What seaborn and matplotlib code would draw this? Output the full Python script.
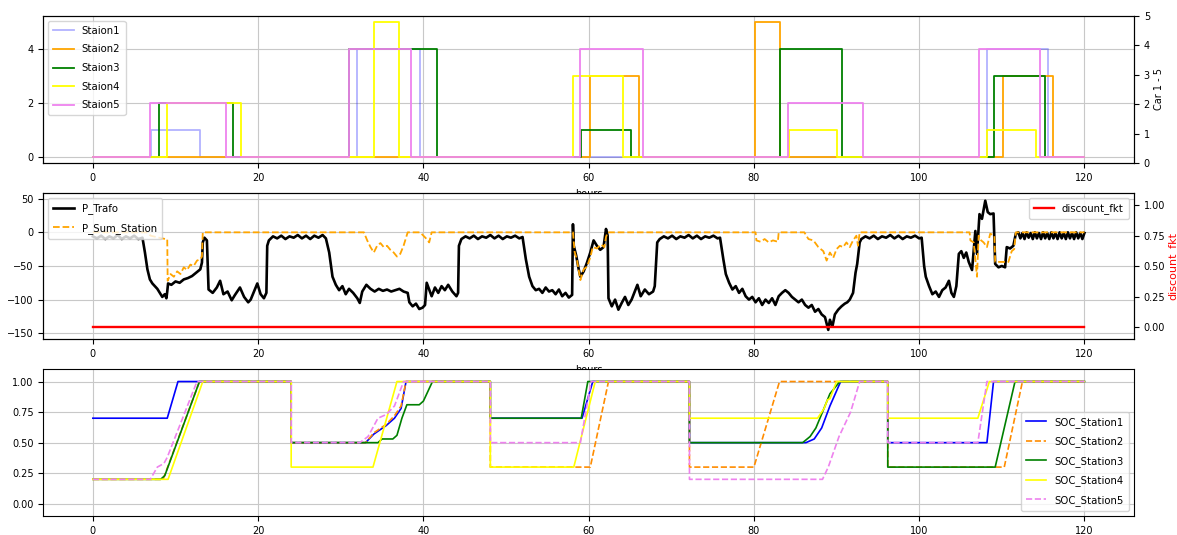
import matplotlib
matplotlib.use("Agg")
import matplotlib.pyplot as plt
import seaborn as sns
import numpy as np

plt.rcParams['font.family'] = ['DejaVu Sans']
plt.rcParams['font.size'] = 7

# ---------------- data: cars per station (step breakpoints) ----------------
st1_h = [0, 7.0, 13.0, 32.0, 39.6, 108.2, 115.6, 120]
st1_n = [0, 1, 0, 4, 0, 4, 0, 0]
st2_h = [0, 60.2, 66.1, 80.15, 83.1, 110.2, 116.2, 120]
st2_n = [0, 3, 0, 5, 0, 3, 0, 0]
st3_h = [0, 8.0, 17.0, 31.0, 41.6, 59.1, 65.1, 83.1, 90.7, 109.1, 115.2, 120]
st3_n = [0, 2, 0, 4, 0, 1, 0, 4, 0, 3, 0, 0]
st4_h = [0, 9.0, 17.9, 34.0, 37.0, 58.1, 64.1, 84.2, 90.1, 108.2, 114.2, 120]
st4_n = [0, 2, 0, 5, 0, 3, 0, 1, 0, 1, 0, 0]
st5_h = [0, 6.95, 16.1, 31.0, 38.5, 59.0, 66.6, 84.1, 93.2, 107.2, 114.6, 120]
st5_n = [0, 2, 0, 4, 0, 4, 0, 2, 0, 4, 0, 0]

# ---------------- data: transformer power ----------------
trafo_h = [0.0, 0.5, 1.0, 1.5, 2.0, 2.5, 3.0, 3.5, 4.0, 4.5, 5.0, 5.5, 6.0, 6.3, 6.6, 6.9,
           7.2, 7.5, 7.8, 8.1, 8.4, 8.7, 8.9, 9.0, 9.1, 9.5, 10.0, 10.5, 11.0, 11.5, 12.0,
           12.5, 13.0, 13.2, 13.3, 13.5, 13.8, 14.0, 14.5, 15.0, 15.4, 15.8, 16.3, 16.8,
           17.2, 17.8, 18.3, 18.8, 19.1, 19.5, 19.9, 20.3, 20.7, 21.0, 21.1, 21.3, 21.8,
           22.3, 22.8, 23.3, 23.8, 24.3, 24.8, 25.3, 25.8, 26.3, 26.8, 27.3, 27.8, 28.2,
           28.6, 29.0, 29.4, 29.8, 30.2, 30.6, 31.0, 31.5, 32.0, 32.3, 32.6, 33.1, 33.6,
           34.1, 34.6, 35.1, 35.6, 36.1, 36.6, 37.1, 37.6, 38.1, 38.3, 38.7, 39.1, 39.5,
           39.9, 40.2, 40.4, 40.7, 41.0, 41.4, 41.8, 42.2, 42.6, 43.0, 43.5, 44.0, 44.2,
           44.3, 44.6, 45.1, 45.6, 46.1, 46.6, 47.1, 47.6, 48.1, 48.6, 49.1, 49.6, 50.1,
           50.6, 51.1, 51.6, 52.0, 52.4, 52.8, 53.2, 53.6, 54.0, 54.4, 54.8, 55.2, 55.6,
           56.0, 56.4, 56.8, 57.2, 57.6, 58.0, 58.1, 58.2, 58.5, 58.8, 59.0, 59.4, 59.8,
           60.2, 60.6, 61.0, 61.4, 61.8, 62.1, 62.3, 62.4, 62.8, 63.2, 63.6, 64.0, 64.4,
           64.8, 65.2, 65.9, 66.3, 66.8, 67.3, 67.8, 68.0, 68.3, 68.6, 69.1, 69.6, 70.1,
           70.6, 71.1, 71.6, 72.1, 72.6, 73.1, 73.6, 74.1, 74.6, 75.1, 75.6, 75.9, 76.3,
           76.6, 77.0, 77.4, 77.8, 78.2, 78.6, 79.0, 79.4, 79.8, 80.2, 80.6, 81.0, 81.4,
           81.8, 82.2, 82.6, 83.0, 83.4, 83.8, 84.2, 84.6, 85.0, 85.4, 85.8, 86.2, 86.6,
           87.0, 87.4, 87.8, 88.2, 88.6, 89.0, 89.2, 89.5, 89.8, 90.2, 90.6, 91.0, 91.3,
           91.6, 92.0, 92.3, 92.5, 92.8, 93.0, 93.5, 94.0, 94.5, 95.0, 95.5, 96.0, 96.5,
           97.0, 97.5, 98.0, 98.5, 99.0, 99.5, 100.0, 100.3, 100.6, 100.8, 101.2, 101.6,
           102.0, 102.4, 102.8, 103.2, 103.6, 103.9, 104.2, 104.5, 104.8, 105.1, 105.4,
           105.7, 106.0, 106.4, 106.8, 107.0, 107.3, 107.6, 108.0, 108.3, 108.6, 109.0,
           109.2, 109.6, 110.0, 110.4, 110.6, 111.0, 111.4, 111.7, 112.0, 112.25, 112.5,
           112.75, 113.0, 113.25, 113.5, 113.75, 114.0, 114.25, 114.5, 114.75, 115.0,
           115.25, 115.5, 115.75, 116.0, 116.25, 116.5, 116.75, 117.0, 117.25, 117.5,
           117.75, 118.0, 118.25, 118.5, 118.75, 119.0, 119.25, 119.5, 119.75, 120.0]
trafo_kw = [-6, -9, -5, -10, -6, -9, -4, -10, -6, -9, -5, -10, -8, -30, -55, -70,
            -76, -80, -84, -90, -96, -92, -98, -88, -76, -78, -73, -75, -70, -68, -65,
            -60, -55, -45, -15, -8, -12, -85, -90, -82, -72, -92, -88, -101,
            -93, -82, -96, -104, -100, -88, -76, -92, -98, -90, -20, -12, -6,
            -9, -5, -10, -6, -8, -4, -9, -5, -10, -5, -8, -4, -9,
            -30, -66, -78, -86, -80, -92, -84, -90, -98, -105, -88, -78, -84,
            -88, -84, -87, -85, -88, -86, -84, -88, -90, -104, -110, -106, -114,
            -112, -108, -75, -85, -95, -82, -90, -80, -86, -78, -88, -95, -90,
            -20, -10, -6, -9, -5, -10, -6, -8, -4, -9, -5, -10, -6,
            -8, -5, -9, -7, -40, -66, -80, -86, -84, -90, -82, -88, -86,
            -92, -85, -95, -90, -97, -93, 12, -20, -35, -55, -66, -58, -45,
            -30, -12, -20, -26, -22, 5, -5, -98, -110, -100, -115, -105, -96,
            -108, -100, -78, -95, -85, -92, -88, -80, -15, -10, -6, -9, -5,
            -10, -6, -8, -4, -9, -5, -10, -6, -8, -5, -9, -8, -40,
            -62, -75, -85, -80, -90, -84, -95, -100, -96, -104, -98, -108, -100,
            -105, -98, -108, -95, -90, -86, -90, -96, -100, -104, -100, -108, -112,
            -108, -118, -114, -122, -126, -145, -130, -140, -122, -115, -110, -106, -104,
            -100, -90, -60, -47, -15, -10, -6, -9, -5, -10, -6, -8, -4,
            -9, -5, -10, -6, -8, -5, -9, -8, -50, -66, -80, -92,
            -88, -96, -86, -82, -72, -90, -96, -80, -32, -28, -38,
            -30, -44, -56, 2, -32, 27, 20, 47, 30, 27, 28,
            -47, -52, -50, -52, -22, -24, -20, -2, 0, -9, -1,
            -10, 0, -8, -1, -10, 0, -9, -1, -10, 0,
            -9, -1, -10, 0, -9, -1, -10, 0, -9, -1,
            -10, 0, -9, -1, -10, 0, -9, -1, -10, -1]

# ---------------- data: sum of station power ----------------
sum_h = [0, 6.5, 7.0, 8.0, 8.8, 9.0, 9.05, 9.4, 9.8, 10.2, 10.6, 11.0, 11.4, 11.8, 12.2,
         12.6, 13.0, 13.2, 13.3, 32.8, 33.2, 33.6, 34.0, 34.4, 34.8, 35.2, 35.6, 36.0,
         36.4, 36.8, 37.2, 37.6, 38.1, 39.6, 40.0, 40.4, 40.7, 41.0, 58.1, 58.3, 58.6,
         59.0, 59.4, 59.8, 60.2, 60.5, 61.0, 61.5, 61.9, 62.1, 62.3, 80.2, 80.3, 80.8,
         81.3, 81.8, 82.3, 82.9, 83.0, 86.1, 86.6, 87.2, 87.8, 88.4, 88.8, 89.2, 89.6,
         90.0, 90.4, 90.8, 91.2, 91.6, 92.0, 92.4, 92.6, 92.8, 106.1, 106.2, 106.6,
         107.0, 107.2, 107.5, 107.8, 108.2, 108.6, 109.1, 109.2, 110.0, 110.8, 111.2,
         111.5, 111.7, 120]
sum_kw = [0, 0, -5, -8, -10, -10, -72, -62, -66, -58, -62, -52, -56, -48, -50,
          -42, -40, -36, 0, 0, -12, -22, -30, -20, -16, -22, -20, -26,
          -30, -36, -32, -20, 0, 0, -5, -10, -15, 0, 0, -29, -42,
          -71, -55, -51, -37, -22, -24, -18, -22, -7, 0, 0, -12, -14,
          -10, -15, -12, -14, 0, 0, -10, -12, -22, -28, -42, -30, -38,
          -25, -20, -22, -15, -22, -12, -5, -20, 0, 0, -12, -15,
          -66, -5, -12, -15, -22, -2, -5, -44, -44, -44, -28,
          -25, 0, 0]

disc_h = [0, 120]
disc_v = [0, 0]

# ---------------- data: state of charge ----------------
soc1_h = [0, 9.0, 10.3, 24.0, 24.0, 33.0, 34.0, 35.5, 36.5, 37.3, 37.9, 48.1, 48.1, 59.2, 60.5,
          72.2, 72.2, 86.3, 87.3, 88.2, 89.2, 90.5, 96.2, 96.2, 108.2, 109.0, 120]
soc1_v = [0.7, 0.7, 1.0, 1.0, 0.5, 0.5, 0.57, 0.64, 0.7, 0.78, 1.0, 1.0, 0.7, 0.7, 1.0,
          1.0, 0.5, 0.5, 0.53, 0.62, 0.8, 1.0, 1.0, 0.5, 0.5, 1.0, 1.0]
soc2_h = [0, 8.5, 12.9, 24.0, 24.0, 33.0, 34.0, 35.5, 36.5, 37.3, 37.9, 48.1, 48.1, 60.2, 62.4,
          72.2, 72.2, 80.0, 83.1, 96.2, 96.2, 110.3, 112.5, 120]
soc2_v = [0.2, 0.2, 1.0, 1.0, 0.5, 0.5, 0.58, 0.65, 0.72, 0.8, 1.0, 1.0, 0.3, 0.3, 1.0,
          1.0, 0.3, 0.3, 1.0, 1.0, 0.3, 0.3, 1.0, 1.0]
soc3_h = [0, 8.2, 8.7, 12.9, 24.0, 24.0, 34.5, 35.0, 36.3, 36.8, 37.4, 38.0, 39.5, 40.0, 41.1,
          48.1, 48.1, 59.1, 59.9, 72.2, 72.2, 85.9, 86.8, 87.5, 88.3, 89.2, 90.4, 96.2, 96.2,
          109.2, 111.6, 120]
soc3_v = [0.2, 0.2, 0.23, 1.0, 1.0, 0.5, 0.5, 0.53, 0.53, 0.56, 0.7, 0.81, 0.81, 0.84, 1.0,
          1.0, 0.7, 0.7, 1.0, 1.0, 0.5, 0.5, 0.55, 0.62, 0.75, 0.9, 1.0, 1.0, 0.3,
          0.3, 1.0, 1.0]
soc4_h = [0, 9.1, 13.3, 24.0, 24.0, 33.9, 36.8, 48.1, 48.1, 58.2, 60.8, 72.2, 72.2, 87.7, 88.5,
          88.9, 89.2, 90.0, 96.2, 96.2, 107.1, 108.5, 120]
soc4_v = [0.2, 0.2, 1.0, 1.0, 0.3, 0.3, 1.0, 1.0, 0.3, 0.3, 1.0, 1.0, 0.7, 0.7, 0.78,
          0.85, 0.86, 1.0, 1.0, 0.7, 0.7, 1.0, 1.0]
soc5_h = [0, 6.95, 7.8, 8.6, 9.0, 12.6, 24.0, 24.0, 32.3, 33.3, 34.5, 35.5, 36.5, 37.6, 48.1,
          48.1, 59.0, 60.3, 72.2, 72.2, 88.3, 89.0, 90.3, 91.7, 92.8, 96.2, 96.2, 107.1,
          108.2, 120]
soc5_v = [0.2, 0.2, 0.3, 0.33, 0.38, 1.0, 1.0, 0.5, 0.5, 0.55, 0.7, 0.73, 0.8, 1.0, 1.0,
          0.5, 0.5, 1.0, 1.0, 0.2, 0.2, 0.3, 0.55, 0.75, 1.0, 1.0, 0.5, 0.5,
          1.0, 1.0]

# ---------------- figure ----------------
W, H = 1177, 535
fig = plt.figure(figsize=(W / 100, H / 100), dpi=100)
left, width = 43.3 / W, (1134 - 43.3) / W
ax1 = fig.add_axes([left, (H - 163.3) / H, width, 147.6 / H])
ax2 = fig.add_axes([left, (H - 339.3) / H, width, 146.0 / H])
ax3 = fig.add_axes([left, (H - 516.0) / H, width, 146.7 / H])

lw = 1.3
common = dict(estimator=None, sort=False, legend=False)
grid_kw = dict(color='#c8c8c8', lw=0.8)
leg_kw = dict(fontsize=7.3, labelspacing=0.85, borderpad=0.5)
xt = [0, 20, 40, 60, 80, 100, 120]

# top panel
for hs, ns, col, lab, alpha in [(st1_h, st1_n, 'blue', 'Staion1', 0.3),
                                 (st2_h, st2_n, 'orange', 'Staion2', 1.0),
                                 (st3_h, st3_n, 'green', 'Staion3', 1.0),
                                 (st4_h, st4_n, 'yellow', 'Staion4', 1.0),
                                 (st5_h, st5_n, 'violet', 'Staion5', 1.0)]:
    sns.lineplot(x=hs, y=ns, ax=ax1, color=col, alpha=alpha, lw=lw,
                 drawstyle='steps-post', label=lab, **common)
ax1.set_xlim(-6, 126)
ax1.set_yticks([0, 2, 4])
ax1.set_xticks(xt)
ax1.grid(True, **grid_kw)
ax1.set_xlabel('hours')
ax1.legend(loc='upper left', **leg_kw)
ax1r = ax1.twinx()
ax1r.set_ylim(0, 5)
ax1r.set_ylabel('Car 1 - 5', labelpad=3)

# middle panel
sns.lineplot(x=trafo_h, y=trafo_kw, ax=ax2, color='black', lw=1.9, label='P_Trafo', **common)
sns.lineplot(x=sum_h, y=sum_kw, ax=ax2, color='orange', lw=1.3, linestyle='--',
             label='P_Sum_Station', **common)
ax2.set_xlim(-6, 126)
ax2.set_ylim(-159, 58)
ax2.set_yticks([-150, -100, -50, 0, 50])
ax2.set_xticks(xt)
ax2.grid(True, **grid_kw)
ax2.set_xlabel('hours')
ax2.legend(loc='upper left', **leg_kw)
ax2r = ax2.twinx()
sns.lineplot(x=disc_h, y=disc_v, ax=ax2r, color='red', lw=1.7, label='discount_fkt', **common)
ax2r.set_ylim(-0.1, 1.1)
ax2r.set_yticks([0, 0.25, 0.5, 0.75, 1.0])
ax2r.set_ylabel('discount_fkt', color='red', fontsize=8)
ax2r.yaxis.set_label_coords(1.031, 0.5)
ax2r.legend(loc='upper right', **leg_kw)

# bottom panel
for hs, vs, col, ls, lab in [(soc1_h, soc1_v, 'blue', '-', 'SOC_Station1'),
                              (soc2_h, soc2_v, 'darkorange', '--', 'SOC_Station2'),
                              (soc3_h, soc3_v, 'green', '-', 'SOC_Station3'),
                              (soc4_h, soc4_v, 'yellow', '-', 'SOC_Station4'),
                              (soc5_h, soc5_v, 'violet', '--', 'SOC_Station5')]:
    sns.lineplot(x=hs, y=vs, ax=ax3, color=col, lw=1.2, linestyle=ls, label=lab, **common)
ax3.set_xlim(-6, 126)
ax3.set_ylim(-0.1, 1.1)
ax3.set_yticks([0, 0.25, 0.5, 0.75, 1.0])
ax3.set_xticks(xt)
ax3.grid(True, **grid_kw)
ax3.legend(loc='lower right', **leg_kw)

for a in (ax1, ax2, ax3, ax1r, ax2r):
    a.tick_params(labelsize=7)

fig.savefig('out.png', dpi=100)
